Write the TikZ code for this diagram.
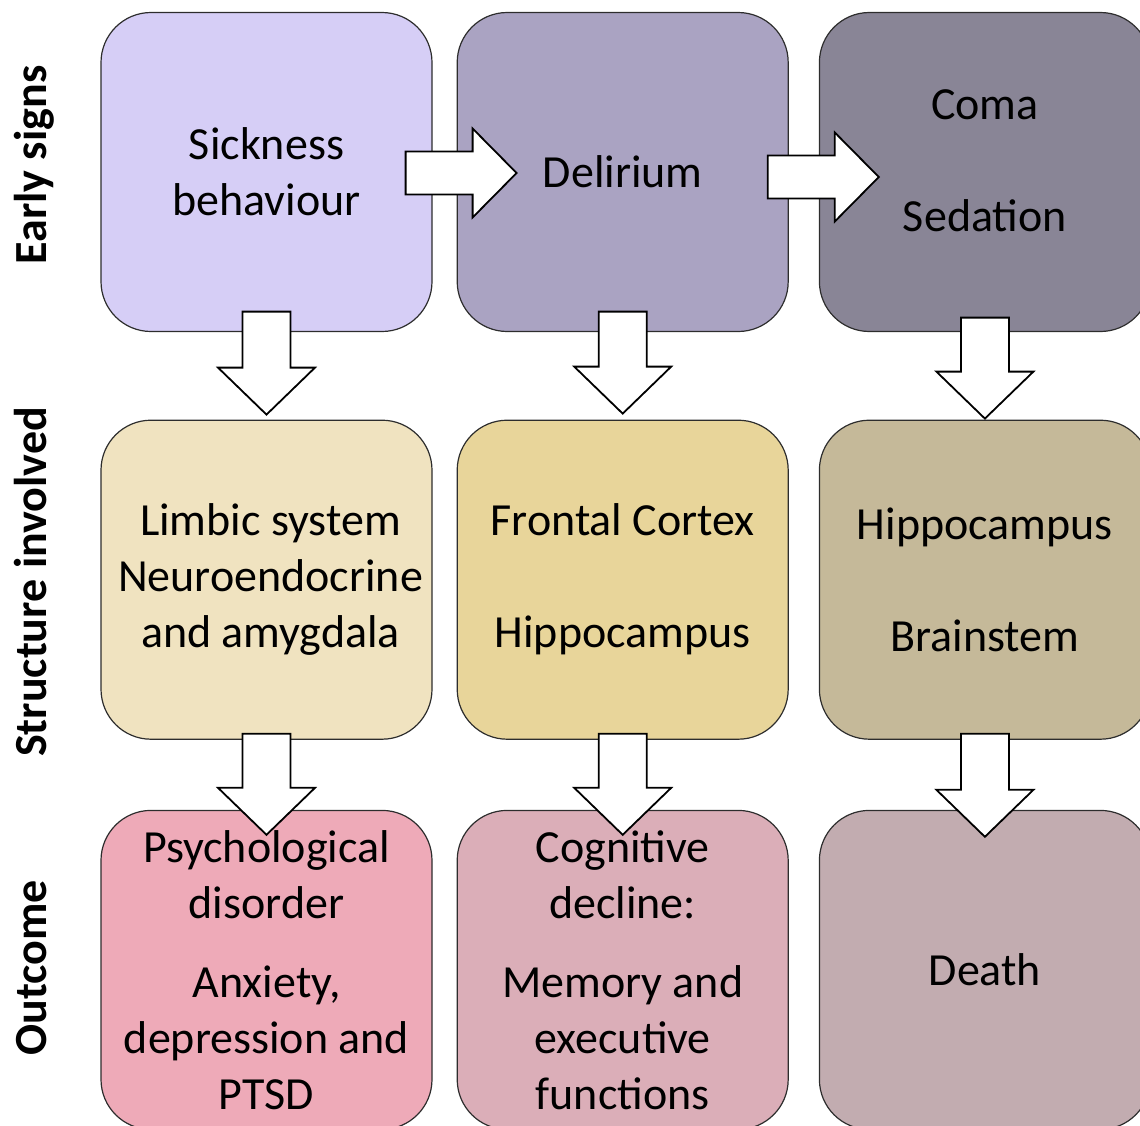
\documentclass[tikz,border=0pt]{standalone}
\usepackage{fontspec}
\setmainfont{Carlito}
\usepackage{xcolor}
\usepackage{tikz}
\usetikzlibrary{positioning, calc}
\definecolor{signA}{RGB}{214, 206, 246}
\definecolor{signB}{RGB}{170, 163, 194}
\definecolor{signC}{RGB}{137, 133, 150}
\definecolor{structA}{RGB}{240, 227, 192}
\definecolor{structB}{RGB}{232, 213, 154}
\definecolor{structC}{RGB}{197, 185, 153}
\definecolor{outA}{RGB}{238, 170, 184}
\definecolor{outB}{RGB}{219, 174, 184}
\definecolor{outC}{RGB}{194, 172, 176}
\definecolor{edgegray}{RGB}{45, 45, 45}

% block arrow pointing down: #1 shaft top, #2 tip
\newcommand{\downblock}[2]{%
  \path #1 coordinate (bt) #2 coordinate (bh);
  \draw[blockarrow] ($(bt)+(-24pt,0)$) -- ($(bt)+(24pt,0)$) -- ($(bh)+(24pt,47pt)$)
    -- ($(bh)+(48.5pt,47pt)$) -- (bh) -- ($(bh)+(-48.5pt,47pt)$) -- ($(bh)+(-24pt,47pt)$) -- cycle;}
% block arrow pointing right: #1 shaft start, #2 tip
\newcommand{\rightblock}[2]{%
  \path #1 coordinate (bt) #2 coordinate (bh);
  \draw[blockarrow] ($(bt)+(0,21.5pt)$) -- ($(bh)+(-44pt,21.5pt)$) -- ($(bh)+(-44pt,44.5pt)$)
    -- (bh) -- ($(bh)+(-44pt,-44.5pt)$) -- ($(bh)+(-44pt,-21.5pt)$) -- ($(bt)+(0,-21.5pt)$) -- cycle;}

\begin{document}
\begin{tikzpicture}[
    node distance=24pt,
    stagebox/.style={draw=edgegray, line width=1.2pt, rounded corners=50pt,
                     minimum width=331pt, minimum height=319pt, align=center,
                     font=\fontsize{46}{56}\selectfont},
    rowlabel/.style={rotate=90, anchor=base, font=\fontsize{46}{56}\selectfont\bfseries},
    blockarrow/.style={draw=black, line width=1.8pt, fill=white, line join=miter}
]
    \useasboundingbox (0,0) rectangle (1140pt,-1125pt);

    % early signs
    \node[stagebox, fill=signA] (sickness) at (266.5pt,-172pt) {Sickness\\behaviour};
    \node[stagebox, fill=signB, right=24pt of sickness] (delirium) {Delirium};
    \node[stagebox, fill=signC, right=30pt of delirium] (coma) {Coma\\[56pt]Sedation\\[-34pt]};

    % structure involved
    \node[stagebox, fill=structA, below=87.5pt of sickness] (limbic)
        {\hspace*{8pt}Limbic system\\\hspace*{8pt}Neuroendocrine\\\hspace*{8pt}and amygdala};
    \node[stagebox, fill=structB, below=87.5pt of delirium] (frontal)
        {Frontal Cortex\\[56pt]Hippocampus};
    \node[stagebox, fill=structC, below=87.5pt of coma] (brainstem)
        {Hippocampus\\[56pt]Brainstem};

    % outcome
    \node[stagebox, fill=outA, below=70pt of limbic] (psych)
        {Psychological\\disorder\\[23pt]Anxiety,\\depression and\\PTSD};
    \node[stagebox, fill=outB, below=70pt of frontal] (cognitive)
        {Cognitive\\decline:\\[23pt]Memory and\\executive\\functions};
    \node[stagebox, fill=outC, below=70pt of brainstem] (death) {Death};

    % row labels
    \node[rowlabel] (labsigns) at (46pt,-165pt) {Early signs};
    \node[rowlabel] (labstruct) at (46pt,-582pt) {Structure involved};
    \node[rowlabel] (labout) at (46pt,-968pt) {Outcome};

    % arrows
    \rightblock{([xshift=-27pt,yshift=-1pt]sickness.east)}{([xshift=60pt,yshift=-1pt]delirium.west)}
    \rightblock{([xshift=-21pt,yshift=-5pt]delirium.east)}{([xshift=60pt,yshift=-5pt]coma.west)}

    \downblock{([yshift=20.5pt]sickness.south)}{([yshift=5pt]limbic.north)}
    \downblock{([yshift=20.5pt]delirium.south)}{([yshift=6pt]frontal.north)}
    \downblock{([yshift=14.5pt]coma.south)}{([yshift=1pt]brainstem.north)}

    \downblock{([yshift=6pt]limbic.south)}{([yshift=-25pt]psych.north)}
    \downblock{([yshift=6pt]frontal.south)}{([yshift=-25pt]cognitive.north)}
    \downblock{([yshift=6pt]brainstem.south)}{([yshift=-27pt]death.north)}
\end{tikzpicture}
\end{document}
